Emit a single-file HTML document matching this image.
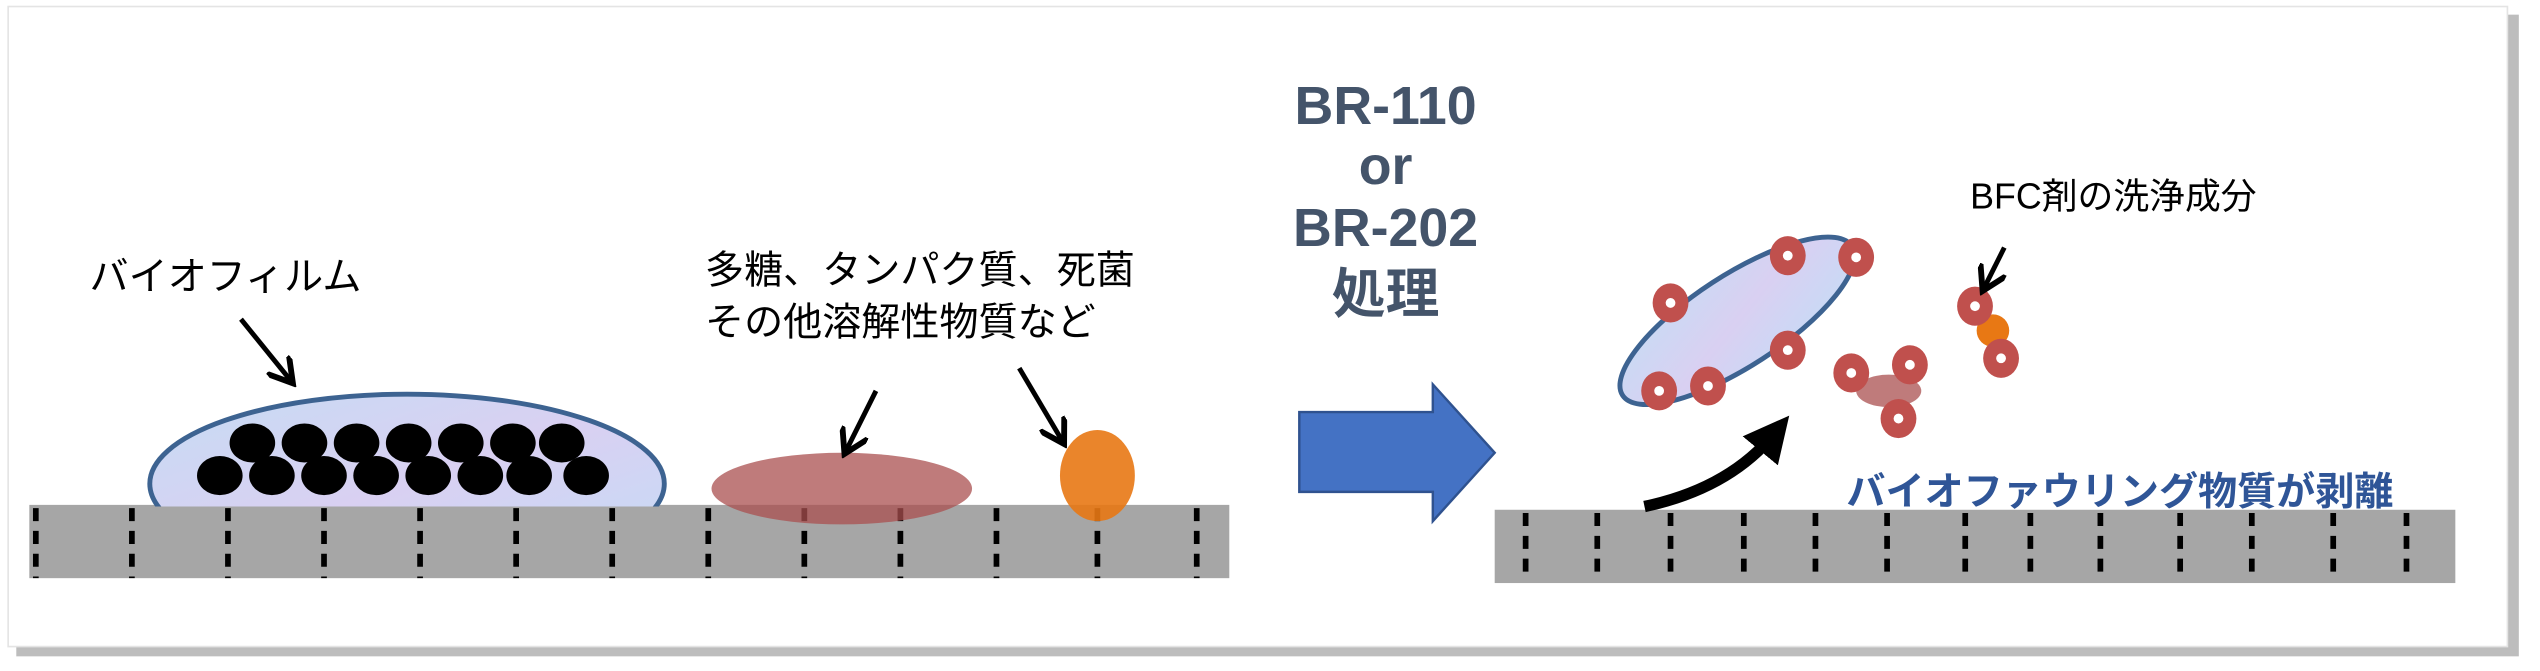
<!DOCTYPE html>
<html><head><meta charset="utf-8"><style>
html,body{margin:0;padding:0;background:#fff;}
svg{display:block;}
text{font-family:"Liberation Sans","Noto Sans CJK JP",sans-serif;}
</style></head><body>
<svg width="2540" height="671" viewBox="0 0 1560 412" preserveAspectRatio="none" xmlns="http://www.w3.org/2000/svg">
<defs>
<linearGradient id="bf" x1="0" y1="0" x2="1" y2="1">
<stop offset="0" stop-color="#c6dcf4"/><stop offset="0.5" stop-color="#d9d0f2"/><stop offset="1" stop-color="#c4dcf6"/>
</linearGradient>
<marker id="ah" markerWidth="6" markerHeight="6" refX="4" refY="3" orient="auto" markerUnits="strokeWidth">
<path d="M0,0 L5,3 L0,6" fill="none" stroke="#000" stroke-width="1.2"/>
</marker>
<marker id="ah2" markerWidth="4" markerHeight="4" refX="2" refY="2" orient="auto" markerUnits="strokeWidth">
<path d="M0,0 L4,2 L0,4 Z" fill="#000"/>
</marker>
<clipPath id="abovebar"><rect x="0" y="0" width="1560" height="311"/></clipPath>
</defs>
<rect x="0" y="0" width="1560" height="412" fill="#fff"/>
<rect x="10" y="9" width="1537" height="394" fill="#bdbdbd"/>
<rect x="5" y="4" width="1535" height="393" fill="#fff" stroke="#e4e4e4" stroke-width="1"/>

<!-- left bar -->
<rect x="18" y="310" width="737" height="45" fill="#a6a6a6"/>
<g stroke="#000" stroke-width="3.5" stroke-dasharray="8 6">
<line x1="22" y1="312" x2="22" y2="355"/><line x1="81" y1="312" x2="81" y2="355"/><line x1="140" y1="312" x2="140" y2="355"/><line x1="199" y1="312" x2="199" y2="355"/><line x1="258" y1="312" x2="258" y2="355"/><line x1="317" y1="312" x2="317" y2="355"/><line x1="376" y1="312" x2="376" y2="355"/><line x1="435" y1="312" x2="435" y2="355"/><line x1="494" y1="312" x2="494" y2="355"/><line x1="553" y1="312" x2="553" y2="355"/><line x1="612" y1="312" x2="612" y2="355"/><line x1="674" y1="312" x2="674" y2="355"/><line x1="735" y1="312" x2="735" y2="355"/>
</g>

<!-- biofilm -->
<g clip-path="url(#abovebar)">
<ellipse cx="250" cy="297" rx="158" ry="55" fill="url(#bf)" stroke="#3d6391" stroke-width="3"/>
</g>
<g fill="#000">
<ellipse cx="155" cy="272" rx="14" ry="12"/><ellipse cx="187" cy="272" rx="14" ry="12"/><ellipse cx="219" cy="272" rx="14" ry="12"/><ellipse cx="251" cy="272" rx="14" ry="12"/><ellipse cx="283" cy="272" rx="14" ry="12"/><ellipse cx="315" cy="272" rx="14" ry="12"/><ellipse cx="345" cy="272" rx="14" ry="12"/>
<ellipse cx="135" cy="292" rx="14" ry="12"/><ellipse cx="167" cy="292" rx="14" ry="12"/><ellipse cx="199" cy="292" rx="14" ry="12"/><ellipse cx="231" cy="292" rx="14" ry="12"/><ellipse cx="263" cy="292" rx="14" ry="12"/><ellipse cx="295" cy="292" rx="14" ry="12"/><ellipse cx="325" cy="292" rx="14" ry="12"/><ellipse cx="360" cy="292" rx="14" ry="12"/>
</g>

<ellipse cx="517" cy="300" rx="80" ry="22" fill="#a94f4f" fill-opacity="0.75"/>
<ellipse cx="674" cy="292" rx="23" ry="28" fill="#e87814" fill-opacity="0.9"/>

<text x="55" y="178" font-size="24">バイオフィルム</text>
<text x="433" y="174" font-size="24">多糖、タンパク質、死菌</text>
<text x="433" y="206" font-size="24">その他溶解性物質など</text>

<g stroke="#000" stroke-width="3" fill="none">
<line x1="148" y1="196" x2="178" y2="233" marker-end="url(#ah)"/>
<line x1="538" y1="240" x2="520" y2="276" marker-end="url(#ah)"/>
<line x1="626" y1="226" x2="652" y2="270" marker-end="url(#ah)"/>
</g>

<!-- center -->
<g fill="#44546a" font-weight="bold" font-size="33" text-anchor="middle">
<text x="851" y="76">BR-110</text>
<text x="851" y="113">or</text>
<text x="851" y="151">BR-202</text>
<text x="851" y="192">処理</text>
</g>
<path d="M798,253 H880 V236 L918,278 L880,320 V302 H798 Z" fill="#4472c4" stroke="#2f528f" stroke-width="1.5"/>

<!-- right bar -->
<rect x="918" y="313" width="590" height="45" fill="#a6a6a6"/>
<g stroke="#000" stroke-width="3.5" stroke-dasharray="8 6">
<line x1="937" y1="315" x2="937" y2="355"/><line x1="981" y1="315" x2="981" y2="355"/><line x1="1026" y1="315" x2="1026" y2="355"/><line x1="1071" y1="315" x2="1071" y2="355"/><line x1="1115" y1="315" x2="1115" y2="355"/><line x1="1159" y1="315" x2="1159" y2="355"/><line x1="1207" y1="315" x2="1207" y2="355"/><line x1="1247" y1="315" x2="1247" y2="355"/><line x1="1290" y1="315" x2="1290" y2="355"/><line x1="1339" y1="315" x2="1339" y2="355"/><line x1="1383" y1="315" x2="1383" y2="355"/><line x1="1433" y1="315" x2="1433" y2="355"/><line x1="1478" y1="315" x2="1478" y2="355"/>
</g>

<text x="1134" y="310" font-size="24" font-weight="bold" fill="#2f5597">バイオファウリング物質が剥離</text>
<text x="1210" y="128" font-size="22">BFC剤の洗浄成分</text>

<ellipse cx="1067" cy="197" rx="84" ry="28" transform="rotate(-33 1067 197)" fill="url(#bf)" stroke="#3d6391" stroke-width="3"/>
<ellipse cx="1160" cy="240" rx="20" ry="10" fill="#a94f4f" fill-opacity="0.75"/>
<ellipse cx="1224" cy="203" rx="10" ry="10" fill="#e87814"/>

<g fill="#c0504d">
<ellipse cx="1098" cy="157" rx="11" ry="12"/><ellipse cx="1140" cy="158" rx="11" ry="12"/><ellipse cx="1026" cy="186" rx="11" ry="12"/><ellipse cx="1098" cy="215" rx="11" ry="12"/><ellipse cx="1049" cy="237" rx="11" ry="12"/><ellipse cx="1019" cy="240" rx="11" ry="12"/>
<ellipse cx="1137" cy="229" rx="11" ry="12"/><ellipse cx="1173" cy="224" rx="11" ry="12"/><ellipse cx="1166" cy="257" rx="11" ry="12"/>
<ellipse cx="1213" cy="188" rx="11" ry="12"/><ellipse cx="1229" cy="220" rx="11" ry="12"/>
</g>
<g fill="#fff">
<circle cx="1098" cy="157" r="3"/><circle cx="1140" cy="158" r="3"/><circle cx="1026" cy="186" r="3"/><circle cx="1098" cy="215" r="3"/><circle cx="1049" cy="237" r="3"/><circle cx="1019" cy="240" r="3"/>
<circle cx="1137" cy="229" r="3"/><circle cx="1173" cy="224" r="3"/><circle cx="1166" cy="257" r="3"/>
<circle cx="1213" cy="188" r="3"/><circle cx="1229" cy="220" r="3"/>
</g>

<line x1="1231" y1="152" x2="1219" y2="176" stroke="#000" stroke-width="3" marker-end="url(#ah)"/>
<path d="M1010,311 Q1062,300 1090,266" stroke="#000" stroke-width="7" fill="none" marker-end="url(#ah2)"/>
</svg>
</body></html>
